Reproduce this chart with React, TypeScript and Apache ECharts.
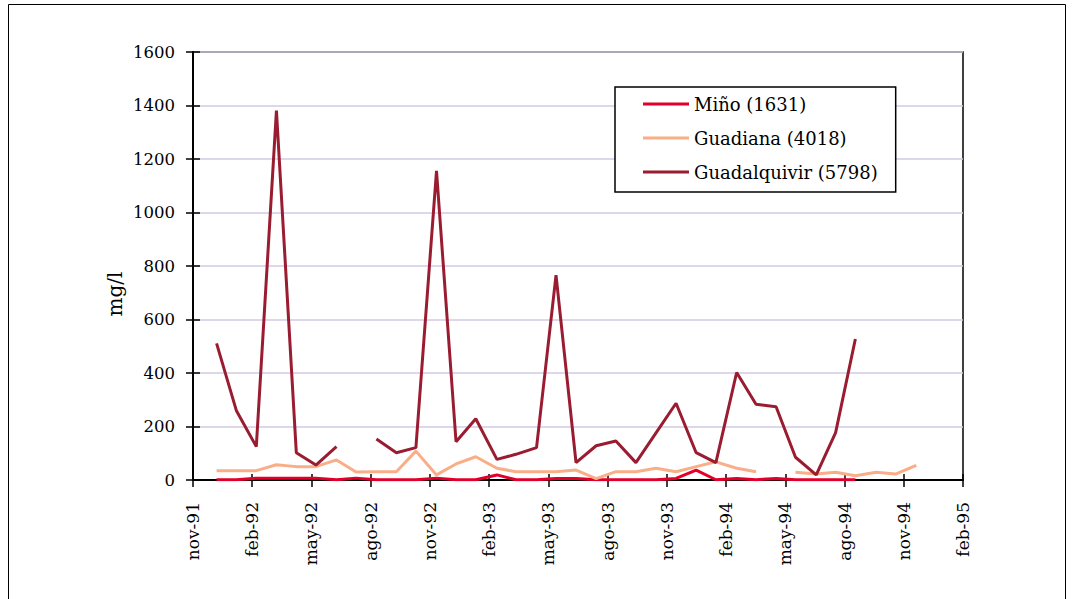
import React, { useEffect, useRef } from "react";
import * as echarts from "echarts";

const sampleDates = [
  "1991-12-07", "1992-01-07", "1992-02-07", "1992-03-08", "1992-04-08", "1992-05-08",
  "1992-06-09", "1992-07-09", "1992-08-10", "1992-09-10", "1992-10-10", "1992-11-11",
  "1992-12-11", "1993-01-11", "1993-02-12", "1993-03-12", "1993-04-13", "1993-05-13",
  "1993-06-13", "1993-07-14", "1993-08-14", "1993-09-14", "1993-10-15", "1993-11-15",
  "1993-12-16", "1994-01-16", "1994-02-16", "1994-03-17", "1994-04-17", "1994-05-17",
  "1994-06-18", "1994-07-18", "1994-08-18", "1994-09-19", "1994-10-19", "1994-11-20",
];

const minoValues: (number | null)[] = [
  1, 1, 7, 7, 7, 7, 1, 7, 1, 1, 1, 7, 1, 1, 19, 1, 1, 6, 6, 1, 1, 1, 1, 6, 37, 1, 6, 1, 6, 1, 1, 1, 1,
];
const guadianaValues: (number | null)[] = [
  35, 35, 35, 57, 50, 50, 75, 30, 31, 31, 108, 19, 60, 87, 44, 31, 31, 31, 37, 5,
  31, 31, 44, 31, 50, 68, 44, 31, null, 29, 22, 29, 16, 29, 22, 55,
];
const guadalquivirValues: (number | null)[] = [
  511, 260, 125, 1381, 102, 56, 125, null, 153, 102, 121, 1156, 143, 229, 77, 96, 121, 766,
  65, 128, 146, 65, 176, 287, 102, 65, 402, 283, 274, 85, 19, 177, 527,
];

const seriesNames = ["Miño (1631)", "Guadiana (4018)", "Guadalquivir (5798)"];
const seriesColors = ["#e2002b", "#f9ae88", "#9a1c31"];

const xTickLabels = [
  "nov-91", "feb-92", "may-92", "ago-92", "nov-92", "feb-93", "may-93",
  "ago-93", "nov-93", "feb-94", "may-94", "ago-94", "nov-94", "feb-95",
];

const FONT = "DejaVu Serif";

function toMonthIndex(s: string): number {
  const [y, m, d] = s.split("-").map(Number);
  const dim = new Date(y, m, 0).getDate();
  return (y - 1991) * 12 + (m - 11) + (d - 1) / dim;
}

function buildData(vals: (number | null)[]) {
  return vals.map((v, i) => [toMonthIndex(sampleDates[i]), v == null ? "-" : v]);
}

export default function App() {
  const ref = useRef<HTMLDivElement>(null);
  useEffect(() => {
    if (!ref.current) return;
    const chart = echarts.init(ref.current, undefined, { renderer: "svg" });
    const allVals = [minoValues, guadianaValues, guadalquivirValues];
    const xMax = (xTickLabels.length - 1) * 3;
    chart.setOption({
      animation: false,
      backgroundColor: "#fff",
      grid: {
        left: 193, top: 52, width: 770, height: 428,
        show: true, borderColor: "#000", borderWidth: 1.5, backgroundColor: "transparent",
      },
      legend: {
        orient: "vertical",
        left: 615, top: 87,
        padding: [7, 18, 10, 28],
        itemWidth: 46, itemHeight: 3, itemGap: 14,
        icon: "rect",
        backgroundColor: "#fff",
        borderColor: "#000", borderWidth: 1.5,
        textStyle: { fontFamily: FONT, fontSize: 18, lineHeight: 20, color: "#000" },
        data: seriesNames,
      },
      xAxis: [
        {
          type: "value", min: 0, max: xMax, interval: 3,
          axisLine: { show: true, lineStyle: { color: "#000", width: 2 } },
          axisTick: { show: true, length: 7, lineStyle: { color: "#000", width: 1.5 } },
          splitLine: { show: false },
          axisLabel: {
            rotate: 90, margin: 22, fontFamily: FONT, fontSize: 17, color: "#000",
            formatter: (v: number) => xTickLabels[Math.round(v / 3)] ?? "",
          },
        },
        {
          type: "value", min: 0, max: xMax, interval: 3, position: "bottom",
          axisLine: { show: false },
          axisTick: { show: true, inside: true, length: 6, lineStyle: { color: "#000", width: 1.5 } },
          axisLabel: { show: false },
          splitLine: { show: false },
        },
      ],
      yAxis: [
        {
          type: "value", min: 0, max: 1600, interval: 200,
          axisLine: { show: true, lineStyle: { color: "#000", width: 2 } },
          axisTick: { show: true, length: 7, lineStyle: { color: "#000", width: 1.5 } },
          splitLine: { show: true, lineStyle: { color: "#d2cae2", width: 1.5 } },
          axisLabel: {
            margin: 18, fontFamily: FONT, fontSize: 16.5, color: "#000",
            formatter: (v: number) => String(v),
          },
        },
        {
          type: "value", min: 0, max: 1600, interval: 200, position: "left",
          axisLine: { show: false },
          axisTick: { show: true, inside: true, length: 7, lineStyle: { color: "#000", width: 1.5 } },
          axisLabel: { show: false },
          splitLine: { show: false },
        },
      ],
      graphic: [
        {
          type: "rect",
          shape: { x: 8.5, y: 4.5, width: 1057, height: 640 },
          style: { fill: "none", stroke: "#000", lineWidth: 1 },
          silent: true,
          z: -1,
        },
        {
          type: "text",
          x: 115, y: 294,
          rotation: Math.PI / 2,
          style: {
            text: "mg/l", fontFamily: FONT, fontSize: 20, fill: "#000",
            align: "center", verticalAlign: "middle",
          },
        },
      ],
      series: seriesNames.map((name, i) => ({
        name,
        type: "line",
        xAxisIndex: 0,
        yAxisIndex: 0,
        data: buildData(allVals[i]),
        symbol: "none",
        connectNulls: false,
        color: seriesColors[i],
        lineStyle: { color: seriesColors[i], width: 3 },
        itemStyle: { color: seriesColors[i] },
      })),
    });
    return () => chart.dispose();
  }, []);
  return (
    <div
      ref={ref}
      style={{ position: "absolute", left: 0, top: 0, width: 1073, height: 599 }}
    />
  );
}
